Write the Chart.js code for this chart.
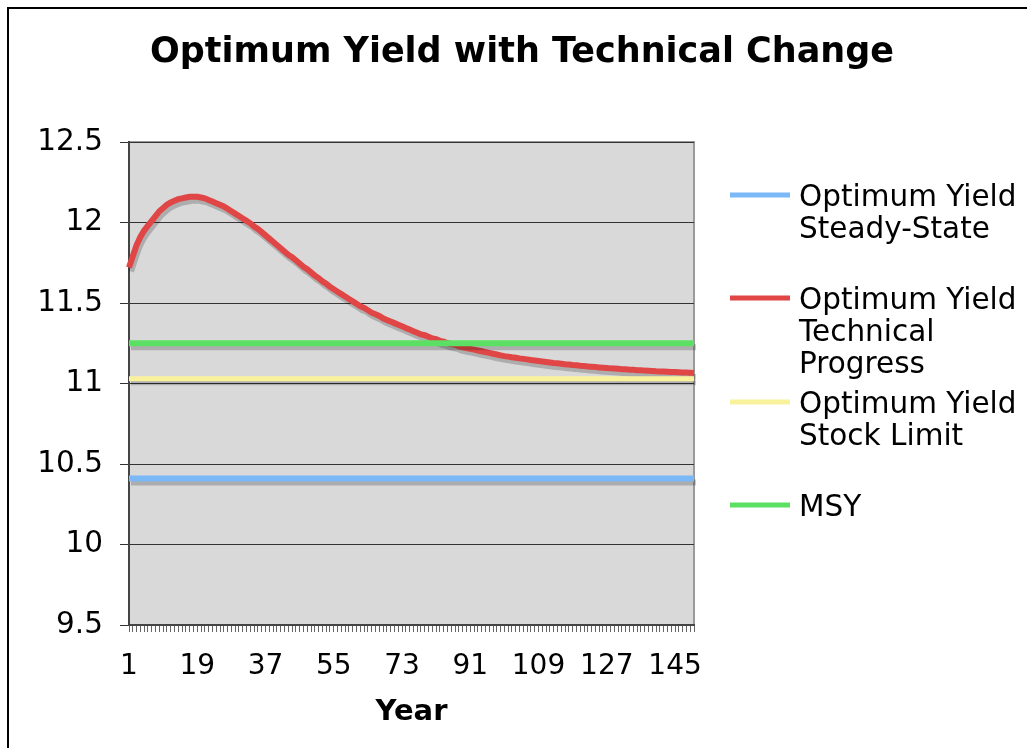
<!DOCTYPE html>
<html>
<head>
<meta charset="utf-8">
<script src="https://cdn.jsdelivr.net/npm/chart.js@4.4.1/dist/chart.umd.min.js"></script>
<style>
  body { margin: 0; background: #fff; overflow: hidden; }
  #wrap { position: relative; width: 1027px; height: 748px; }
  #frame { position: absolute; left: 7px; top: 7px; width: 1040px; height: 760px; border: 2px solid #000; box-sizing: border-box; pointer-events: none; }
  canvas { position: absolute; left: 0; top: 0; }
</style>
</head>
<body>
<div id="wrap">
  <canvas id="chart" width="1027" height="748"></canvas>
  <div id="frame"></div>
</div>
<script>
// categories: years 1..150
const years = Array.from({ length: 150 }, (_, i) => String(i + 1));
const xTickLabels = ['1', '19', '37', '55', '73', '91', '109', '127', '145'];
const yTickValues = [9.5, 10, 10.5, 11, 11.5, 12, 12.5];

const seriesNames = [
    ['Optimum Yield', 'Steady-State'],
    ['Optimum Yield', 'Technical', 'Progress'],
    ['Optimum Yield', 'Stock Limit'],
    ['MSY']
];

// flat lines
const steadyStateYield = 10.41;
const stockLimitYield = 11.03;
const msyYield = 11.25;

// optimum yield with technical progress, year 1..150
const technicalProgress = [
    11.72, 11.79, 11.86, 11.91, 11.95, 11.98, 12.01, 12.04, 12.07, 12.09,
    12.11, 12.125, 12.135, 12.145, 12.15, 12.155, 12.16, 12.16, 12.16, 12.155,
    12.15, 12.14, 12.13, 12.12, 12.11, 12.10, 12.085, 12.07, 12.055, 12.04,
    12.025, 12.01, 11.995, 11.975, 11.96, 11.94, 11.92, 11.90, 11.88, 11.86,
    11.84, 11.82, 11.80, 11.785, 11.765, 11.745, 11.725, 11.71, 11.69, 11.67,
    11.655, 11.635, 11.62, 11.60, 11.585, 11.57, 11.555, 11.54, 11.525, 11.51,
    11.495, 11.48, 11.47, 11.455, 11.44, 11.43, 11.42, 11.405, 11.395, 11.385,
    11.375, 11.365, 11.355, 11.345, 11.335, 11.325, 11.315, 11.305, 11.30, 11.29,
    11.28, 11.275, 11.265, 11.26, 11.25, 11.245, 11.24, 11.23, 11.225, 11.22,
    11.215, 11.21, 11.205, 11.20, 11.195, 11.19, 11.185, 11.18, 11.175, 11.17,
    11.167, 11.163, 11.16, 11.156, 11.153, 11.15, 11.146, 11.143, 11.14, 11.137,
    11.134, 11.131, 11.128, 11.126, 11.123, 11.12, 11.118, 11.115, 11.113, 11.11,
    11.108, 11.106, 11.104, 11.102, 11.10, 11.098, 11.096, 11.094, 11.093, 11.091,
    11.089, 11.088, 11.086, 11.085, 11.083, 11.082, 11.08, 11.079, 11.078, 11.076,
    11.075, 11.074, 11.073, 11.072, 11.071, 11.07, 11.069, 11.068, 11.067, 11.066
];

const colors = ['#7ab8f7', '#e04646', '#faf19c', '#5ce064'];
const FONT = '"DejaVu Sans", Verdana, sans-serif';

// grey plot area, its frame and the drop shadow under the lines
const plotArea = {
    id: 'plotArea',
    beforeDraw(chart) {
        const { ctx, chartArea: a } = chart;
        ctx.save();
        ctx.fillStyle = '#d9d9d9';
        ctx.fillRect(a.left, a.top, a.right - a.left, a.bottom - a.top);
        ctx.strokeStyle = '#9a9a9a';
        ctx.lineWidth = 2;
        ctx.beginPath();
        ctx.moveTo(a.left, a.top);
        ctx.lineTo(a.right, a.top);
        ctx.lineTo(a.right, a.bottom);
        ctx.stroke();
        ctx.restore();
    },
    beforeDatasetsDraw(chart) {
        const ctx = chart.ctx;
        ctx.save();
        ctx.shadowColor = 'rgba(0,0,0,0.2)';
        ctx.shadowOffsetX = 2;
        ctx.shadowOffsetY = 4;
        ctx.shadowBlur = 0;
    },
    afterDatasetsDraw(chart) {
        chart.ctx.restore();
    }
};

// title and the legend on the right, drawn the way the sheet lays them out
const titleAndLegend = {
    id: 'titleAndLegend',
    afterDraw(chart) {
        const ctx = chart.ctx;
        ctx.save();
        ctx.fillStyle = '#000';
        ctx.textAlign = 'center';
        ctx.textBaseline = 'middle';
        ctx.font = 'bold 35px ' + FONT;
        ctx.fillText('Optimum Yield with Technical Change', 522, 53);

        const rowY = [198, 301, 405, 508];
        ctx.font = '29.5px ' + FONT;
        ctx.textAlign = 'left';
        seriesNames.forEach((lines, i) => {
            ctx.strokeStyle = colors[i];
            ctx.lineWidth = 5;
            ctx.beginPath();
            ctx.moveTo(730, rowY[i] - 3);
            ctx.lineTo(790, rowY[i] - 3);
            ctx.stroke();
            lines.forEach((t, j) => ctx.fillText(t, 799, rowY[i] + j * 32));
        });
        ctx.restore();
    }
};

const flat = v => years.map(() => v);

new Chart(document.getElementById('chart'), {
    type: 'line',
    data: {
        labels: years,
        datasets: [
            { label: 'Optimum Yield Steady-State', data: flat(steadyStateYield), borderColor: colors[0], borderWidth: 6, order: 3 },
            { label: 'Optimum Yield Technical Progress', data: technicalProgress, borderColor: colors[1], borderWidth: 6, order: 2 },
            { label: 'Optimum Yield Stock Limit', data: flat(stockLimitYield), borderColor: colors[2], borderWidth: 5, order: 1 },
            { label: 'MSY', data: flat(msyYield), borderColor: colors[3], borderWidth: 6, order: 0 }
        ]
    },
    options: {
        responsive: false,
        animation: false,
        elements: { point: { radius: 0 }, line: { tension: 0, borderCapStyle: 'butt' } },
        layout: { padding: { top: 142, right: 333, left: 0, bottom: 0 } },
        plugins: { legend: { display: false }, tooltip: { enabled: false }, title: { display: false } },
        scales: {
            x: {
                offset: false,
                afterFit(scale) { scale.height = 123; },
                grid: { drawOnChartArea: false, tickLength: 7, color: '#666', lineWidth: 1 },
                border: { color: '#444', width: 2 },
                ticks: {
                    autoSkip: false,
                    maxRotation: 0,
                    padding: 18,
                    color: '#000',
                    font: { family: FONT, size: 28 },
                    callback(value) {
                        const lab = this.getLabelForValue(value);
                        return xTickLabels.includes(lab) ? lab : '';
                    }
                },
                title: { display: true, text: 'Year', color: '#000', font: { family: FONT, size: 29, weight: 'bold' }, padding: { top: 0, bottom: 18 } }
            },
            y: {
                min: 9.5,
                max: 12.5,
                afterFit(scale) { scale.width = 129; },
                afterBuildTicks(scale) { scale.ticks = yTickValues.map(v => ({ value: v })); },
                grid: { color: '#333', lineWidth: 1, tickLength: 9, drawTicks: true },
                border: { color: '#444', width: 2 },
                ticks: {
                    padding: 17,
                    color: '#000',
                    font: { family: FONT, size: 29.5 },
                    callback: v => String(v)
                }
            }
        }
    },
    plugins: [plotArea, titleAndLegend]
});
</script>
</body>
</html>
